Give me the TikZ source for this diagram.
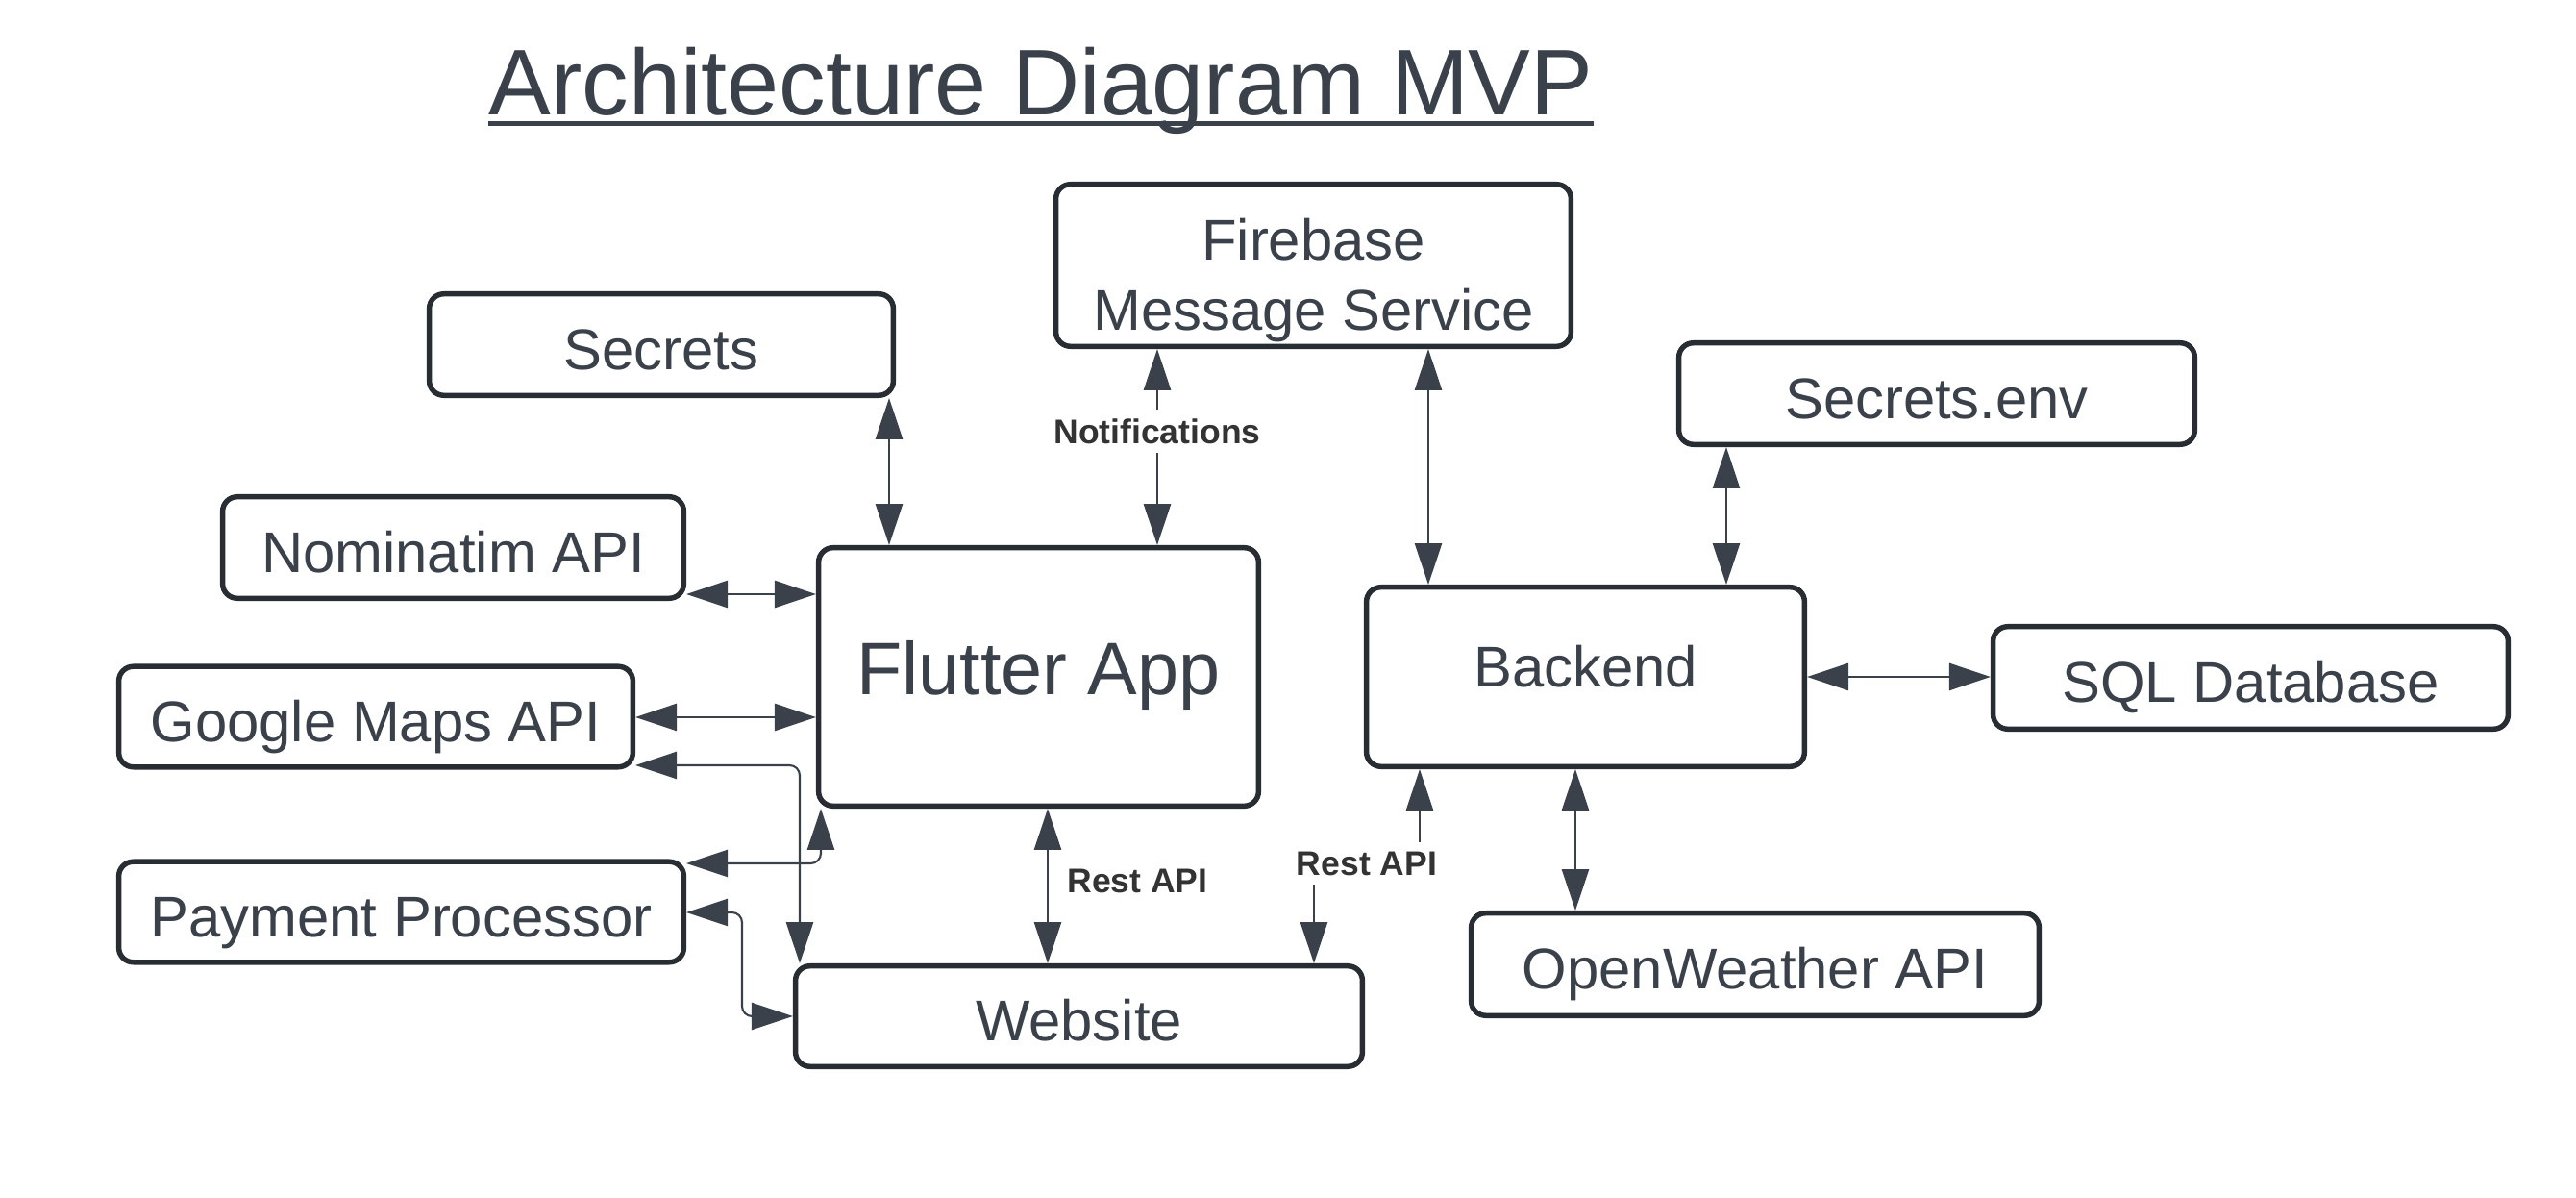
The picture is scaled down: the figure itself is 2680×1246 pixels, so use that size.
\documentclass[tikz,border=0pt]{standalone}
\usepackage{fontspec}
\setmainfont{Liberation Sans}
\usetikzlibrary{arrows.meta}
\definecolor{txt}{HTML}{3A414A}
\definecolor{bord}{HTML}{282C33}
\definecolor{lblc}{HTML}{333333}
\begin{document}
\begin{tikzpicture}[x=0.01cm,y=-0.01cm,
  >={Triangle[length=12.2pt,width=8pt]},
  box/.style={draw=bord, line width=1.55pt, rounded corners=4.3pt, fill=white,
    inner sep=0pt, text=txt, font=\fontsize{17pt}{20.6pt}\selectfont},
  one/.style={text height=14.6pt, text depth=0pt},
  lbl/.style={font=\fontsize{10.1pt}{12pt}\selectfont\bfseries, text=lblc,
    fill=white, inner xsep=2pt, inner ysep=2.6pt},
  conn/.style={draw=txt, line width=0.6pt, <->}]
\useasboundingbox (0,0) rectangle (2680,1246);
\fill[white] (0,0) rectangle (2680,1246);

% title
\node[anchor=base west, inner sep=0pt, text=txt,
  font=\fontsize{27.6pt}{33pt}\selectfont] (title) at (508,119.2) {Architecture Diagram MVP};
\draw[txt, line width=1.4pt] ([yshift=-2.6pt]title.base west) -- ([yshift=-2.6pt]title.base east);

% boxes
\node[box, one, minimum width=4.825cm, minimum height=1.055cm] (sec) at (688,358.5) {Secrets};
\node[box, minimum width=5.355cm, minimum height=1.685cm, text height=14.6pt, text depth=17.6pt]
  (fb) at (1366.5,276) {\begin{tabular}[t]{@{}c@{}}Firebase\\Message Service\end{tabular}};
\node[box, one, minimum width=4.795cm, minimum height=1.055cm] (nom) at (471.5,569.5) {Nominatim API};
\node[box, minimum width=4.575cm, minimum height=2.685cm, font=\fontsize{22pt}{26.4pt}\selectfont,
  text height=18.9pt, text depth=8.5pt] (fl) at (1080.5,704) {Flutter App};
\node[box, one, minimum width=5.345cm, minimum height=1.045cm] (gm) at (391,745.5) {Google Maps API};
\node[box, one, minimum width=5.875cm, minimum height=1.045cm] (pp) at (417.5,948.5) {Payment Processor};
\node[box, one, minimum width=5.895cm, minimum height=1.045cm] (ws) at (1122.5,1057) {Website};
\node[box, one, minimum width=5.365cm, minimum height=1.055cm] (env) at (2015,409.5) {Secrets.env};
\node[box, minimum width=4.555cm, minimum height=1.865cm, text height=14.6pt, text depth=8.7pt]
  (be) at (1649.5,704) {Backend};
\node[box, one, minimum width=5.355cm, minimum height=1.065cm] (sql) at (2341.5,705) {SQL Database};
\node[box, one, minimum width=5.905cm, minimum height=1.065cm] (ow) at (1826,1003) {OpenWeather API};

% helper coordinates
\coordinate (c1) at (925,0);
\coordinate (c2) at (1204,0);
\coordinate (c3) at (1486,0);
\coordinate (c4) at (1796,0);
\coordinate (c5) at (0,618);
\coordinate (c6) at (0,746);
\coordinate (c7) at (1639,0);
\coordinate (c8) at (1090,0);
\coordinate (c9a) at (1477,898);
\coordinate (c9b) at (1367,898);
\coordinate (c10) at (832,796);
\coordinate (c11) at (854,898);
\coordinate (c12) at (772,0);
\coordinate (c13) at (0,949);

% connectors
\draw[conn] (sec.south -| c1) -- (fl.north -| c1);
\draw[conn] (fb.south -| c2) -- node[lbl, pos=0.42] (nlab) {Notifications} (fl.north -| c2);
\draw[conn] (fb.south -| c3) -- (be.north -| c3);
\draw[conn] (env.south -| c4) -- (be.north -| c4);
\draw[conn] (nom.east |- c5) -- (fl.west |- c5);
\draw[conn] (gm.east |- c6) -- (fl.west |- c6);
\draw[conn] (be.east) -- (be.east -| sql.west);
\draw[conn] (be.south -| c7) -- (ow.north -| c7);
\draw[conn] (fl.south -| c8) -- node[lbl, fill=none, right=3.5pt, pos=0.47] (rlab1) {Rest API} (ws.north -| c8);
\draw[conn] (be.south -| c9a) -- (c9a) -- node[lbl] (rlab2) {Rest API} (c9b) -- (ws.north -| c9b);
\draw[conn, rounded corners=3pt] (gm.east |- c10) -- (c10) -- (ws.north -| c10);
\draw[conn, rounded corners=3pt] (pp.east |- c11) -- (c11) -- (fl.south -| c11);
\draw[conn, rounded corners=3pt] (pp.east |- c13) -- (c13 -| c12) -- (ws.west -| c12) -- (ws.west);
\end{tikzpicture}
\end{document}
